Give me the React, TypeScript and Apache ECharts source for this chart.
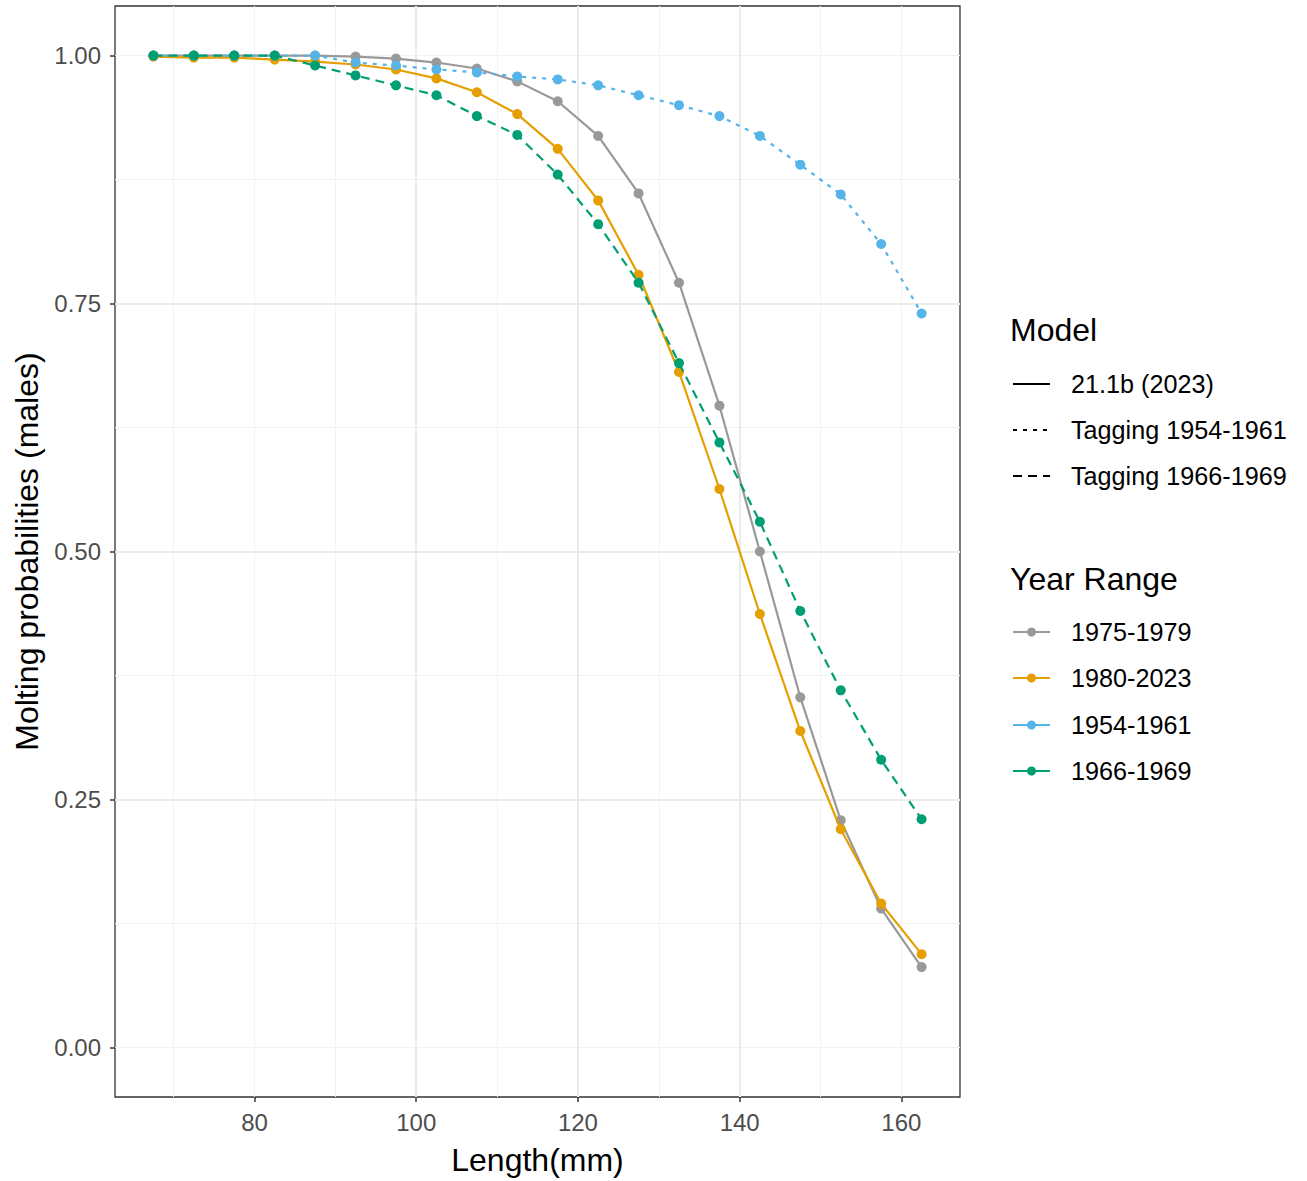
import React, { useEffect, useRef } from "react";
import * as echarts from "echarts";

const lengths = [67.5, 72.5, 77.5, 82.5, 87.5, 92.5, 97.5, 102.5, 107.5, 112.5, 117.5, 122.5, 127.5, 132.5, 137.5, 142.5, 147.5, 152.5, 157.5, 162.5];

const yr1975_1979 = [1.0, 1.0, 1.0, 1.0, 1.0, 0.999, 0.997, 0.993, 0.987, 0.974, 0.954, 0.919, 0.861, 0.771, 0.647, 0.5, 0.353, 0.229, 0.14, 0.081];
const yr1980_2023 = [0.999, 0.998, 0.998, 0.996, 0.994, 0.991, 0.986, 0.977, 0.963, 0.941, 0.906, 0.854, 0.779, 0.681, 0.563, 0.437, 0.319, 0.22, 0.145, 0.094];
const yr1954_1961 = [1.0, 1.0, 1.0, 1.0, 1.0, 0.993, 0.99, 0.986, 0.983, 0.979, 0.976, 0.97, 0.96, 0.95, 0.939, 0.919, 0.89, 0.86, 0.81, 0.74];
const yr1966_1969 = [1.0, 1.0, 1.0, 1.0, 0.99, 0.98, 0.97, 0.96, 0.939, 0.92, 0.88, 0.83, 0.771, 0.69, 0.61, 0.53, 0.44, 0.36, 0.29, 0.23];

const xTickLabels = [80, 100, 120, 140, 160];
const yTickLabels = [0, 0.25, 0.5, 0.75, 1.0];

const modelNames = ["21.1b (2023)", "Tagging 1954-1961", "Tagging 1966-1969"];
const yearNames = ["1975-1979", "1980-2023", "1954-1961", "1966-1969"];

const FONT = "'Liberation Sans', Arial, sans-serif";
const COLORS = ["#999999", "#E69F00", "#56B4E9", "#009E73"];
const DASHES: (number[] | null)[] = [null, null, [4, 6], [9, 6]];
const MODEL_DASHES: (number[] | null)[] = [null, [4, 6], [9, 6]];

export default function App() {
  const ref = useRef<HTMLDivElement>(null);

  useEffect(() => {
    if (!ref.current) return;
    const chart = echarts.init(ref.current, undefined, { renderer: "svg" });

    const seriesValues = [yr1975_1979, yr1980_2023, yr1954_1961, yr1966_1969];
    const series = seriesValues.map((vals, i) => ({
      name: yearNames[i],
      type: "line",
      xAxisIndex: 1,
      yAxisIndex: 1,
      data: lengths.map((x, j) => [x, vals[j]]),
      symbol: "circle",
      symbolSize: 10,
      showSymbol: true,
      itemStyle: { color: COLORS[i] },
      lineStyle: {
        color: COLORS[i],
        width: 2.2,
        type: DASHES[i] ? DASHES[i] : "solid",
        cap: "butt",
      },
      z: 3 + i,
      silent: true,
    }));

    const legendX = 1013;
    const textX = 1071;
    const graphics: any[] = [];
    graphics.push({
      type: "text",
      style: { text: "Model", x: 1010, y: 330, font: `32px ${FONT}`, fill: "#000", verticalAlign: "middle", textVerticalAlign: "middle" },
    });
    const modelYs = [384, 430, 476];
    modelNames.forEach((n, i) => {
      graphics.push({
        type: "line",
        shape: { x1: legendX, y1: modelYs[i], x2: legendX + 37, y2: modelYs[i] },
        style: { stroke: "#000", lineWidth: 2.2, lineDash: MODEL_DASHES[i] || undefined },
      });
      graphics.push({
        type: "text",
        style: { text: n, x: textX, y: modelYs[i], font: `25.2px ${FONT}`, fill: "#000", verticalAlign: "middle", textVerticalAlign: "middle" },
      });
    });
    graphics.push({
      type: "text",
      style: { text: "Year Range", x: 1010, y: 579, font: `32px ${FONT}`, fill: "#000", verticalAlign: "middle", textVerticalAlign: "middle" },
    });
    const yearYs = [632, 678, 725, 771];
    yearNames.forEach((n, i) => {
      graphics.push({
        type: "line",
        shape: { x1: legendX, y1: yearYs[i], x2: legendX + 37, y2: yearYs[i] },
        style: { stroke: COLORS[i], lineWidth: 2.2 },
      });
      graphics.push({
        type: "circle",
        shape: { cx: legendX + 18.5, cy: yearYs[i], r: 4.5 },
        style: { fill: COLORS[i] },
      });
      graphics.push({
        type: "text",
        style: { text: n, x: textX, y: yearYs[i], font: `25.2px ${FONT}`, fill: "#000", verticalAlign: "middle", textVerticalAlign: "middle" },
      });
    });

    chart.setOption({
      animation: false,
      backgroundColor: "#ffffff",
      textStyle: { fontFamily: FONT },
      grid: {
        left: 115,
        top: 6,
        right: 347,
        bottom: 82,
        show: true,
        borderColor: "#333333",
        borderWidth: 1.3,
        backgroundColor: "transparent",
        containLabel: false,
      },
      xAxis: [
        {
          type: "value",
          min: 62.75,
          max: 167.25,
          minInterval: 10,
          maxInterval: 10,
          position: "bottom",
          z: 0,
          axisLine: { show: false, onZero: false },
          axisTick: { show: false },
          axisLabel: { show: false },
          splitLine: { show: true, showMinLine: false, showMaxLine: false, lineStyle: { color: "#F2F2F2", width: 1 } },
        },
        {
          type: "value",
          min: 62.75,
          max: 167.25,
          minInterval: 20,
          maxInterval: 20,
          position: "bottom",
          z: 1,
          name: "Length(mm)",
          nameLocation: "middle",
          nameGap: 47,
          nameTextStyle: { fontSize: 32, color: "#000", fontFamily: FONT },
          axisLine: { show: false, onZero: false },
          axisTick: { show: true, length: 5, customValues: xTickLabels, lineStyle: { color: "#333333", width: 1.5 } },
          axisLabel: {
            show: true,
            customValues: xTickLabels,
            fontSize: 24,
            color: "#4D4D4D",
            margin: 13,
            fontFamily: FONT,
          },
          splitLine: { show: true, showMinLine: false, showMaxLine: false, lineStyle: { color: "#EBEBEB", width: 2 } },
        },
      ],
      yAxis: [
        {
          type: "value",
          min: -0.05,
          max: 1.05,
          minInterval: 0.125,
          maxInterval: 0.125,
          position: "left",
          z: 0,
          axisLine: { show: false, onZero: false },
          axisTick: { show: false },
          axisLabel: { show: false },
          splitLine: { show: true, showMinLine: false, showMaxLine: false, lineStyle: { color: "#F2F2F2", width: 1 } },
        },
        {
          type: "value",
          min: -0.05,
          max: 1.05,
          minInterval: 0.25,
          maxInterval: 0.25,
          position: "left",
          z: 1,
          name: "Molting probabilities (males)",
          nameLocation: "middle",
          nameGap: 72,
          nameTextStyle: { fontSize: 32, color: "#000", fontFamily: FONT },
          axisLine: { show: false, onZero: false },
          axisTick: { show: true, length: 5, customValues: yTickLabels, lineStyle: { color: "#333333", width: 1.5 } },
          axisLabel: {
            show: true,
            customValues: yTickLabels,
            fontSize: 24,
            color: "#4D4D4D",
            margin: 14,
            fontFamily: FONT,
            formatter: (v: number) => v.toFixed(2),
          },
          splitLine: { show: true, showMinLine: false, showMaxLine: false, lineStyle: { color: "#EBEBEB", width: 2 } },
        },
      ],
      series,
      graphic: graphics,
    });

    return () => {
      chart.dispose();
    };
  }, []);

  return (
    <div
      ref={ref}
      style={{ position: "absolute", left: 0, top: 0, width: 1307, height: 1181, background: "#fff" }}
    />
  );
}
